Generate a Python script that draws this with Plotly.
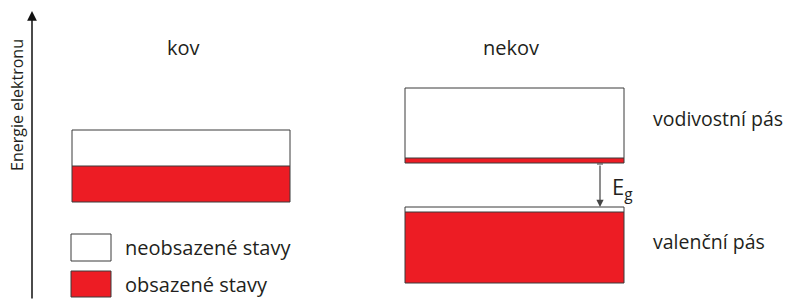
import plotly.graph_objects as go

# ---- data (energy axis: 0 bottom .. 300 top; horizontal position in same units) ----
band_names = ["kov", "vodivostní pás", "valenční pás"]
band_x0 = [72, 405, 405]
band_x1 = [290, 624, 624]
band_bottom = [98, 137, 17]
band_filled_to = [134, 142, 88]
band_top = [170, 212, 93]

gap_from = 136
gap_to = 93
gap_x = 600

legend_labels = ["neobsazené stavy", "obsazené stavy"]
legend_fill = ["white", "#ED1C24"]

RED = "#ED1C24"
EDGE = "#3a3a3a"
FONT = "Open Sans"
TXT = "#231F20"

fig = go.Figure()
fig.add_trace(go.Scatter(x=[0, 795], y=[0, 300], mode="markers",
                         marker=dict(opacity=0), hoverinfo="skip", showlegend=False))

shapes = []
for x0, x1, b, f, t in zip(band_x0, band_x1, band_bottom, band_filled_to, band_top):
    shapes.append(dict(type="rect", x0=x0, x1=x1, y0=f, y1=t, fillcolor="white",
                       line=dict(width=0)))
    shapes.append(dict(type="rect", x0=x0, x1=x1, y0=b, y1=f, fillcolor=RED,
                       line=dict(width=0)))
    shapes.append(dict(type="rect", x0=x0, x1=x1, y0=b, y1=t, fillcolor="rgba(0,0,0,0)",
                       line=dict(color=EDGE, width=1)))
    shapes.append(dict(type="line", x0=x0, x1=x1, y0=f, y1=f,
                       line=dict(color=EDGE, width=1)))

# legend boxes
leg_y = [[39, 66], [3, 29]]
for (y0, y1), fc in zip(leg_y, legend_fill):
    shapes.append(dict(type="rect", x0=71, x1=111, y0=y0, y1=y1, fillcolor=fc,
                       line=dict(color=EDGE, width=1)))

# small tick at top of gap arrow
shapes.append(dict(type="line", x0=gap_x - 3, x1=gap_x + 3, y0=gap_from, y1=gap_from,
                   line=dict(color="#555", width=1.2)))

annotations = []
# energy axis arrow
annotations.append(dict(x=32, y=289, ax=32, ay=0, xref="x", yref="y", axref="x", ayref="y",
                        showarrow=True, arrowhead=2, arrowsize=1.3, arrowwidth=1.5,
                        arrowcolor="#111", text=""))
# gap arrow
annotations.append(dict(x=gap_x, y=gap_to, ax=gap_x, ay=gap_from, xref="x", yref="y",
                        axref="x", ayref="y", showarrow=True, arrowhead=2, arrowsize=1.2,
                        arrowwidth=1.2, arrowcolor="#444", text=""))

def txt(x, y, s, size=20, xanchor="left", angle=0):
    annotations.append(dict(x=x, y=y, xref="x", yref="y", text=s, showarrow=False,
                            xanchor=xanchor, yanchor="middle", textangle=angle,
                            font=dict(family=FONT, size=size, color=TXT)))

txt(183, 253, "kov", xanchor="center")
txt(511, 253, "nekov", xanchor="center")
txt(17, 195, "Energie elektronu", size=16, xanchor="center", angle=-90)
txt(651, 182, band_names[1], size=19.5)
txt(651, 58.5, band_names[2], size=19.5)
txt(123, 52.5, legend_labels[0])
txt(123, 15.5, legend_labels[1])
txt(610, 112, "E<sub>g</sub>", size=22)

fig.update_layout(
    width=795, height=300,
    margin=dict(l=0, r=0, t=0, b=0),
    paper_bgcolor="white", plot_bgcolor="white",
    xaxis=dict(range=[0, 795], visible=False, fixedrange=True),
    yaxis=dict(range=[0, 300], visible=False, fixedrange=True),
    shapes=shapes, annotations=annotations, showlegend=False,
)
fig.write_html("out.html", config={"displayModeBar": False},
               post_script="document.body.style.margin='0';")
